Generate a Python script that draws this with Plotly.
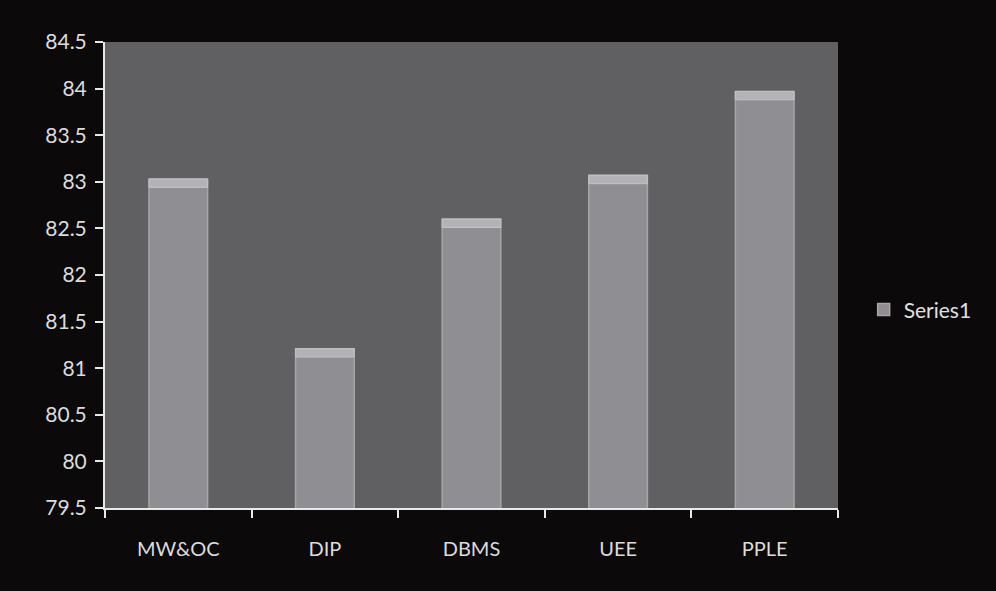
import plotly.graph_objects as go

categories = ["MW&OC", "DIP", "DBMS", "UEE", "PPLE"]
series1 = [83.03, 81.21, 82.6, 83.07, 83.97]
y_ticks = [79.5, 80, 80.5, 81, 81.5, 82, 82.5, 83, 83.5, 84, 84.5]
y_tick_text = ["79.5", "80", "80.5", "81", "81.5", "82", "82.5", "83", "83.5", "84", "84.5"]

bevel = 0.09
bevel_base = [v - bevel for v in series1]
bevel_height = [bevel] * len(series1)

fig = go.Figure()
fig.add_trace(go.Bar(
    x=categories,
    y=series1,
    name="Series1",
    marker=dict(color="#8f8e92", line=dict(color="#a6a5a9", width=1.5)),
))
fig.add_trace(go.Bar(
    x=categories,
    y=bevel_height,
    base=bevel_base,
    name="bevel",
    showlegend=False,
    hoverinfo="skip",
    marker=dict(color="#b3b2b6", line=dict(color="#c4c3c7", width=1)),
))

fig.update_layout(
    width=996,
    height=591,
    barmode="overlay",
    paper_bgcolor="#0b090a",
    plot_bgcolor="#605f62",
    margin=dict(l=105, r=158, t=42, b=83),
    bargap=0.6,
    font=dict(family="Lato, Open Sans, sans-serif", size=20, color="#dcdcdc"),
    showlegend=True,
    legend=dict(
        x=1.035, y=0.425, xanchor="left", yanchor="middle",
        bgcolor="rgba(0,0,0,0)",
        font=dict(size=21, color="#e0e0e0"),
        itemwidth=30,
    ),
)
fig.update_xaxes(
    showline=True, linecolor="#e8e8e8", linewidth=2,
    ticks="outside", ticklen=8, tickcolor="#e8e8e8", tickwidth=2,
    tickson="boundaries", showgrid=False,
    tickfont=dict(size=20, color="#dcdcdc"),
    ticklabelstandoff=22,
)
fig.update_yaxes(
    range=[79.5, 84.5],
    tickvals=y_ticks, ticktext=y_tick_text,
    showline=True, linecolor="#e8e8e8", linewidth=2,
    ticks="outside", ticklen=8, tickcolor="#e8e8e8", tickwidth=2,
    showgrid=False, zeroline=False,
    tickfont=dict(size=21, color="#dcdcdc"),
    ticklabelstandoff=4,
)

fig.write_html(
    "out.html",
    config={"displayModeBar": False},
    post_script="document.body.style.margin='0';document.body.style.background='#0b090a';",
)
